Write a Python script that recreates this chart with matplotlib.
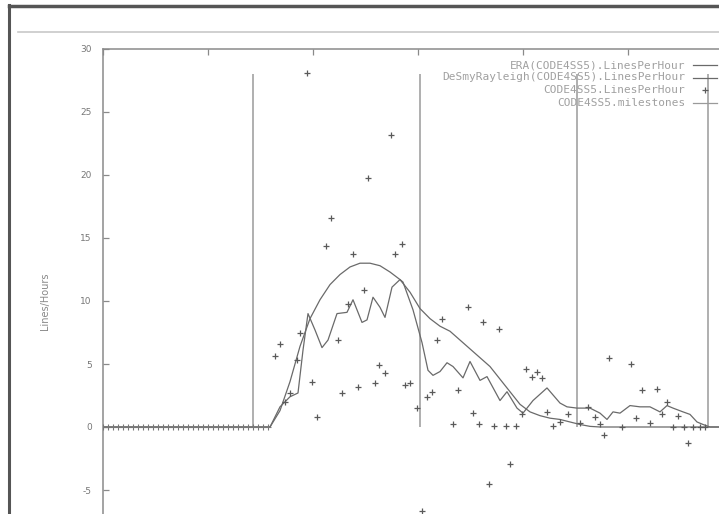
import matplotlib
matplotlib.use("Agg")
import matplotlib.pyplot as plt
from matplotlib.lines import Line2D

plt.rcParams["axes.unicode_minus"] = False

# x axis is in days since the start of the project
zero_days = [0, 1, 2, 3, 4, 5, 6, 7, 8, 9, 10, 11, 12, 13, 14, 15, 16,
             17, 18, 19, 20, 21, 22, 23, 24, 25, 26, 27, 28, 29, 30, 31, 32, 33]
zero_vals = [0] * len(zero_days)

# CODE4SS5.LinesPerHour (points)
pt_days = [34.4, 35.4, 36.4, 37.4, 38.8, 39.4, 40.8, 41.8, 42.8, 44.6, 45.6,
           47.0, 47.8, 49.0, 50.0, 51.0, 52.2, 53.0, 54.4, 55.2, 56.4, 57.6,
           58.4, 59.8, 60.4, 61.4, 62.8, 63.8, 64.8, 65.8, 66.8, 67.8, 70.0,
           71.0, 73.0, 74.0, 75.2, 76.0, 77.2, 78.2, 79.2, 80.6, 81.4, 82.6,
           83.8, 84.6, 85.8, 86.8, 87.8, 88.8, 90.0, 91.4, 93.0, 95.4, 97.0,
           98.4, 99.4, 100.2, 101.2, 103.8, 105.6, 106.6, 107.8, 109.4, 110.8,
           111.8, 112.8, 114.0, 115.0, 116.2, 117.0, 118.0, 119.4, 120.4]
pt_vals = [5.6, 6.6, 2.0, 2.7, 5.3, 7.5, 28.1, 3.6, 0.8, 14.4, 16.6,
           6.9, 2.7, 9.8, 13.7, 3.2, 10.9, 19.8, 3.5, 4.9, 4.3, 23.2,
           13.7, 14.5, 3.3, 3.5, 1.5, -6.7, 2.4, 2.8, 6.9, 8.6, 0.2,
           2.9, 9.5, 1.1, 0.2, 8.3, -4.5, 0.1, 7.8, 0.1, -2.9, 0.1,
           1.0, 4.6, 4.0, 4.4, 3.9, 1.2, 0.1, 0.4, 1.0, 0.3, 1.6,
           0.8, 0.2, -0.6, 5.5, 0.0, 5.0, 0.7, 2.9, 0.3, 3.0,
           1.0, 2.0, 0.0, 0.9, 0.0, -1.3, 0.0, 0.0, 0.0]

# ERA(CODE4SS5).LinesPerHour
era_days = [0, 33.4, 35.4, 37.4, 39.4, 41.4, 43.4, 45.4, 47.4, 49.4, 51.4,
            53.4, 55.4, 57.4, 59.4, 61.4, 63.4, 65.4, 67.4, 69.4, 71.4, 73.4,
            75.4, 77.4, 79.4, 81.4, 83.4, 85.4, 87.4, 89.4, 91.4, 93.4, 95.4,
            97.4, 99.4, 123.4]
era_vals = [0, 0, 1.3, 3.6, 6.4, 8.6, 10.1, 11.3, 12.1, 12.7, 13.0,
            13.0, 12.8, 12.3, 11.7, 10.7, 9.4, 8.6, 8.0, 7.6, 6.9, 6.2,
            5.5, 4.8, 3.8, 2.8, 1.8, 1.2, 0.9, 0.7, 0.6, 0.4, 0.2,
            0.05, 0, 0]

# DeSmyRayleigh(CODE4SS5).LinesPerHour
ds_days = [0, 33.4, 35.4, 37.4, 39.0, 40.0, 41.0, 42.4, 43.8, 45.0, 46.8,
           48.8, 50.0, 51.8, 52.8, 54.0, 55.4, 56.4, 57.8, 59.4, 60.0, 62.0,
           63.8, 65.0, 66.0, 67.4, 68.8, 70.0, 72.0, 73.4, 75.4, 76.8, 79.4,
           80.8, 82.8, 84.0, 86.0, 88.8, 91.4, 92.8, 94.8, 97.4, 99.4, 100.8,
           102.0, 103.4, 105.4, 107.4, 109.4, 111.4, 112.8, 114.0, 116.0,
           117.4, 118.8, 120.0, 121.4, 123.4]
ds_vals = [0, 0, 1.6, 2.4, 2.7, 6.1, 9.0, 7.7, 6.3, 6.9, 9.0,
           9.1, 10.1, 8.3, 8.5, 10.3, 9.5, 8.7, 11.1, 11.7, 11.5, 9.3,
           6.7, 4.5, 4.1, 4.4, 5.1, 4.8, 3.9, 5.2, 3.7, 4.0, 2.1,
           2.8, 1.5, 1.1, 2.1, 3.1, 1.9, 1.6, 1.5, 1.5, 1.1, 0.6,
           1.2, 1.1, 1.7, 1.6, 1.6, 1.2, 1.7, 1.5, 1.2,
           1.0, 0.4, 0.2, 0, 0]

# CODE4SS5.milestones
milestone_days = [30, 63.4, 94.8, 121]
milestone_top = 28

labels = ["ERA(CODE4SS5).LinesPerHour",
          "DeSmyRayleigh(CODE4SS5).LinesPerHour",
          "CODE4SS5.LinesPerHour",
          "CODE4SS5.milestones"]

W, H = 719, 514
fig = plt.figure(figsize=(W / 100, H / 100), dpi=100)

# window frame around the picture
fig.add_artist(Line2D([9 / W, 9 / W], [0, 1 - 5 / H], color="#555555", lw=2.2))
fig.add_artist(Line2D([9 / W, 1], [1 - 6 / H, 1 - 6 / H], color="#555555", lw=2.5))
fig.add_artist(Line2D([18 / W, 1], [1 - 32 / H, 1 - 32 / H], color="#c8c8c8", lw=1.2))

# axes: left edge at 103px, y=30 at 49px, 12.6 px per unit, 5 px per day
x0, y_top = 103, 49
ppu, ppd = 12.6, 5.0
ymin, ymax = -10, 30
xmax = 126
ax = fig.add_axes([x0 / W, 1 - (y_top + (ymax - ymin) * ppu) / H,
                   xmax * ppd / W, (ymax - ymin) * ppu / H])
ax.set_xlim(0, xmax)
ax.set_ylim(ymin, ymax)

gray_line = "#6a6a6a"
ax.vlines(milestone_days, 0, milestone_top, color="#9a9a9a", lw=1.1, zorder=1)
ax.plot(era_days, era_vals, color=gray_line, lw=0.9, zorder=2)
ax.plot(ds_days, ds_vals, color=gray_line, lw=0.9, zorder=2)
ax.plot(zero_days, zero_vals, ls="none", marker="+", ms=4, mew=0.8, color="#777777", zorder=3)
ax.plot(pt_days, pt_vals, ls="none", marker="+", ms=4.5, mew=0.9, color="#5a5a5a", zorder=3)

for s in ax.spines.values():
    s.set_color("#8a8a8a")
    s.set_linewidth(1.1)

ax.set_yticks([-5, 0, 5, 10, 15, 20, 25, 30])
ax.set_xticks([0, 21, 42, 63, 84, 105, 126])
ax.tick_params(axis="both", direction="in", length=4, width=0.9, color="#8a8a8a",
               top=True, right=True, labelbottom=False, labelsize=6.5,
               labelcolor="#777777", pad=8)
ax.set_ylabel("Lines/Hours", fontsize=7, color="#888888", labelpad=22)

# legend, gnuplot style: right-aligned text with sample to the right
text_x = 685
sample = (693, 717)
rows_y = [65, 77.5, 90, 102.5]
for i, (lab, yy) in enumerate(zip(labels, rows_y)):
    fig.text(text_x / W, 1 - yy / H, lab, ha="right", va="center",
             fontsize=8, family="DejaVu Sans Mono", color="#a0a0a0")
    yf = 1 - yy / H
    if i == 2:
        fig.add_artist(Line2D([(sample[0] + sample[1]) / 2 / W], [yf], ls="none",
                              marker="+", ms=4.5, mew=0.9, color="#5a5a5a"))
    else:
        col = "#9a9a9a" if i == 3 else gray_line
        fig.add_artist(Line2D([sample[0] / W, sample[1] / W], [yf, yf], color=col, lw=0.9))

fig.savefig("out.png", dpi=100)
